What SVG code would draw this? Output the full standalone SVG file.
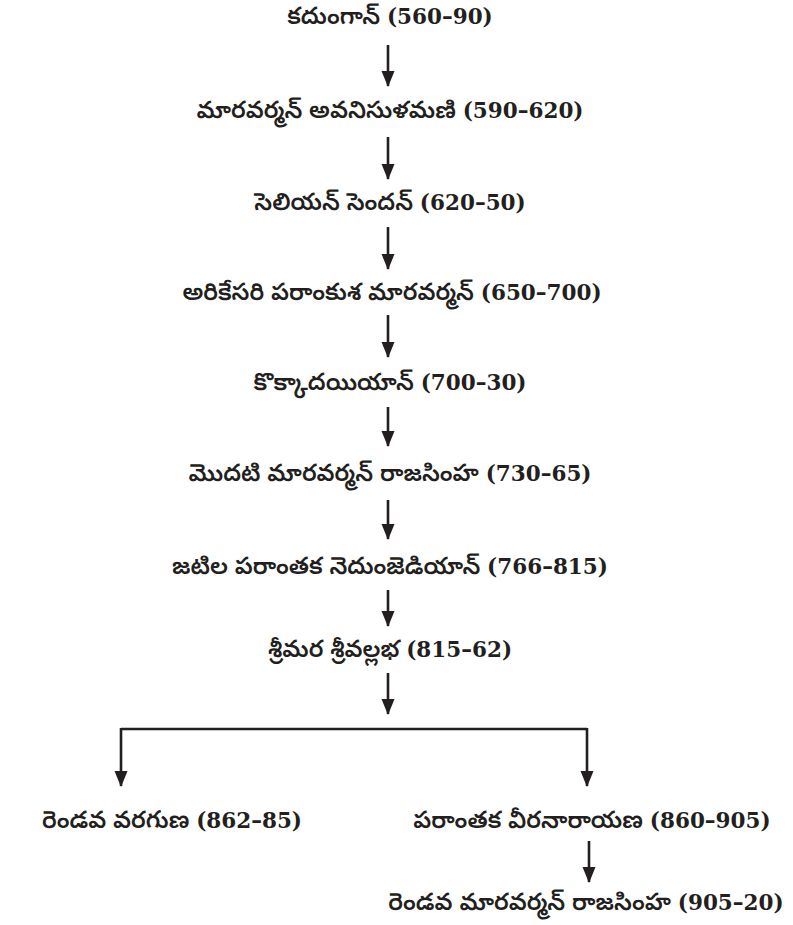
<svg xmlns="http://www.w3.org/2000/svg" width="793" height="925" viewBox="0 0 793 925">
<style>
text{font-family:"Noto Sans Telugu","Noto Serif Telugu","Lohit Telugu","Pothana2000","Noto Sans",sans-serif;font-size:24px;font-weight:600;fill:#231f20;text-anchor:middle}
.d{font-family:"DejaVu Serif","Liberation Serif",serif;font-weight:bold;font-size:21.5px}
.c{stroke:#231f20;stroke-width:2.6;fill:none}
</style>
<defs>
<marker id="ah" markerUnits="userSpaceOnUse" markerWidth="16" markerHeight="14" refX="15" refY="6.5" orient="auto" viewBox="0 0 16 13">
<path d="M0,0 L16,6.5 L0,13 Z" fill="#231f20"/>
</marker>
</defs>
<rect width="793" height="925" fill="#ffffff"/>
<g id="connectors">
<line class="c" x1="388" y1="45" x2="388" y2="86" marker-end="url(#ah)"/>
<line class="c" x1="388" y1="137" x2="388" y2="179" marker-end="url(#ah)"/>
<line class="c" x1="388" y1="227" x2="388" y2="269" marker-end="url(#ah)"/>
<line class="c" x1="388" y1="315" x2="388" y2="357" marker-end="url(#ah)"/>
<line class="c" x1="388" y1="407" x2="388" y2="446" marker-end="url(#ah)"/>
<line class="c" x1="388" y1="500" x2="388" y2="539" marker-end="url(#ah)"/>
<line class="c" x1="388" y1="590" x2="388" y2="626" marker-end="url(#ah)"/>
<line class="c" x1="388" y1="673" x2="388" y2="714" marker-end="url(#ah)"/>
<path class="c" d="M121,729 L587,729"/>
<line class="c" x1="121" y1="728" x2="121" y2="786" marker-end="url(#ah)"/>
<line class="c" x1="587" y1="728" x2="587" y2="786" marker-end="url(#ah)"/>
<line class="c" x1="589" y1="841" x2="589" y2="882" marker-end="url(#ah)"/>
</g>
<g id="n1"><text x="390" y="24">కదుంగాన్ <tspan class="d">(560–90)</tspan></text></g>
<g id="n2"><text x="390" y="118">మారవర్మన్ అవనిసుళమణి <tspan class="d">(590–620)</tspan></text></g>
<g id="n3"><text x="390" y="210">సెలియన్ సెందన్ <tspan class="d">(620–50)</tspan></text></g>
<g id="n4"><text x="392" y="300">అరికేసరి పరాంకుశ మారవర్మన్ <tspan class="d">(650–700)</tspan></text></g>
<g id="n5"><text x="390" y="390">కొక్కాదయియాన్ <tspan class="d">(700–30)</tspan></text></g>
<g id="n6"><text x="390" y="481">మొదటి మారవర్మన్ రాజసింహ <tspan class="d">(730–65)</tspan></text></g>
<g id="n7"><text x="390" y="574">జటిల పరాంతక నెదుంజెడియాన్ <tspan class="d">(766–815)</tspan></text></g>
<g id="n8"><text x="390" y="657">శ్రీమర శ్రీవల్లభ <tspan class="d">(815–62)</tspan></text></g>
<g id="n9"><text x="172" y="828">రెండవ వరగుణ <tspan class="d">(862–85)</tspan></text></g>
<g id="n10"><text x="592" y="828">పరాంతక వీరనారాయణ <tspan class="d">(860–905)</tspan></text></g>
<g id="n11"><text x="586" y="910">రెండవ మారవర్మన్ రాజసింహ <tspan class="d">(905–20)</tspan></text></g>
</svg>
